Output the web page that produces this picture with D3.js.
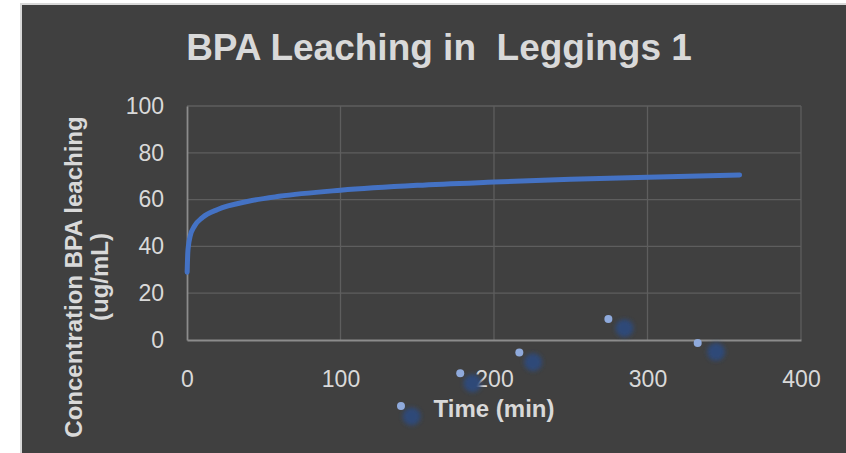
<!DOCTYPE html>
<html>
<head>
<meta charset="utf-8">
<script src="https://cdn.jsdelivr.net/npm/d3@7"></script>
<style>
  html, body { margin: 0; padding: 0; background: #ffffff; }
  svg { display: block; }
  text { font-family: "Liberation Sans", Arial, Helvetica, sans-serif; }
</style>
</head>
<body>
<svg id="chart" width="846" height="453"></svg>
<script>
// Chart text
const chartTitle = "BPA Leaching in  Leggings 1";
const xTitle = "Time (min)";
const yTitleLines = ["Concentration BPA leaching", "(ug/mL)"];

// Axis ticks
const xTicks = [0, 100, 200, 300, 400];
const yTicks = [0, 20, 40, 60, 80, 100];

// Logarithmic trend curve (time in min, concentration in ug/mL)
const trendTime = [0.1, 0.5, 1, 2, 5, 10, 20, 40, 60, 100, 150, 200, 250, 300, 360];
const trendConc = [29, 37.1, 40.6, 44.2, 48.8, 52.3, 55.8, 59.3, 61.4, 64.0, 66.1, 67.5, 68.7, 69.6, 70.5];

// Marker points
const pointTime = [139.4, 178.0, 216.5, 274.5, 332.7];
const pointConc = [-28.2, -14.2, -5.3, 9.0, -1.3];

const svg = d3.select("#chart");
const W = 846, H = 453;
const panel = { left: 22, top: 5 };
const plot = { left: 187, right: 801, top: 106, bottom: 340 };

const x = d3.scaleLinear().domain([0, 400]).range([plot.left, plot.right]);
const y = d3.scaleLinear().domain([0, 100]).range([plot.bottom, plot.top]);

// Panel background with a light frame on the top and left
svg.append("rect").attr("x", panel.left - 2).attr("y", panel.top - 2)
  .attr("width", W).attr("height", H).attr("fill", "#d9d9d9");
svg.append("rect").attr("x", panel.left).attr("y", panel.top)
  .attr("width", W).attr("height", H).attr("fill", "#404040");

const defs = svg.append("defs");
defs.append("filter").attr("id", "soft")
  .attr("x", "-100%").attr("y", "-100%").attr("width", "300%").attr("height", "300%")
  .append("feGaussianBlur").attr("stdDeviation", 2.2);

// Gridlines
const grid = svg.append("g");
grid.selectAll("line.h").data(yTicks.filter(d => d > 0)).join("line")
  .attr("x1", plot.left).attr("x2", plot.right)
  .attr("y1", d => y(d)).attr("y2", d => y(d))
  .attr("stroke", "#5e5e5e").attr("stroke-width", 1.3);
grid.selectAll("line.v").data(xTicks.filter(d => d > 0)).join("line")
  .attr("y1", plot.top).attr("y2", plot.bottom)
  .attr("x1", d => x(d)).attr("x2", d => x(d))
  .attr("stroke", "#5e5e5e").attr("stroke-width", 1.3);

// Axes via d3 axis generators, restyled
const xAxis = svg.append("g").attr("transform", `translate(0,${plot.bottom})`)
  .call(d3.axisBottom(x).tickValues(xTicks).tickSize(0).tickPadding(31));
const yAxis = svg.append("g").attr("transform", `translate(${plot.left},0)`)
  .call(d3.axisLeft(y).tickValues(yTicks).tickSize(0).tickPadding(23));
[xAxis, yAxis].forEach(g => {
  g.select(".domain").attr("stroke", "#8c8c8c").attr("stroke-width", 1.8);
  g.selectAll("text").attr("fill", "#d9d9d9").attr("font-size", 23)
    .attr("font-family", "'Liberation Sans', Arial, sans-serif");
});

// Trend curve
const line = d3.line()
  .x((d, i) => x(trendTime[i]))
  .y(d => y(d))
  .curve(d3.curveMonotoneX);
svg.append("path").datum(trendConc)
  .attr("d", line)
  .attr("fill", "none")
  .attr("stroke", "#4472c4")
  .attr("stroke-width", 5)
  .attr("stroke-linecap", "round");

// Markers with their cast shadows
const pts = pointTime.map((t, i) => ({ t, c: pointConc[i] }));
svg.append("g").selectAll("circle").data(pts).join("circle")
  .attr("cx", d => x(d.t) + 10.7 + (x(d.t) - x(pointTime[0])) * 0.026)
  .attr("cy", d => y(d.c) + 10.5 - (x(d.t) - x(pointTime[0])) * 0.006)
  .attr("r", 9)
  .attr("fill", "#2f4a78")
  .attr("filter", "url(#soft)");
svg.append("g").selectAll("circle").data(pts).join("circle")
  .attr("cx", d => x(d.t))
  .attr("cy", d => y(d.c))
  .attr("r", 4)
  .attr("fill", "#8faadc");

// Title (double space kept)
svg.append("text")
  .attr("x", 439).attr("y", 60)
  .attr("text-anchor", "middle")
  .attr("font-size", 37).attr("font-weight", "bold")
  .attr("fill", "#d9d9d9")
  .style("white-space", "pre")
  .attr("xml:space", "preserve")
  .text(chartTitle);

// X axis title
svg.append("text")
  .attr("x", 494).attr("y", 417)
  .attr("text-anchor", "middle")
  .attr("font-size", 24).attr("font-weight", "bold")
  .attr("fill", "#d9d9d9")
  .text(xTitle);

// Y axis title (two rotated lines)
const yt = svg.append("text")
  .attr("transform", "translate(0,277) rotate(-90)")
  .attr("text-anchor", "middle")
  .attr("font-size", 24).attr("font-weight", "bold")
  .attr("fill", "#d9d9d9");
yt.selectAll("tspan").data(yTitleLines).join("tspan")
  .attr("x", 0)
  .attr("y", (d, i) => 82 + i * 26)
  .text(d => d);
</script>
</body>
</html>
